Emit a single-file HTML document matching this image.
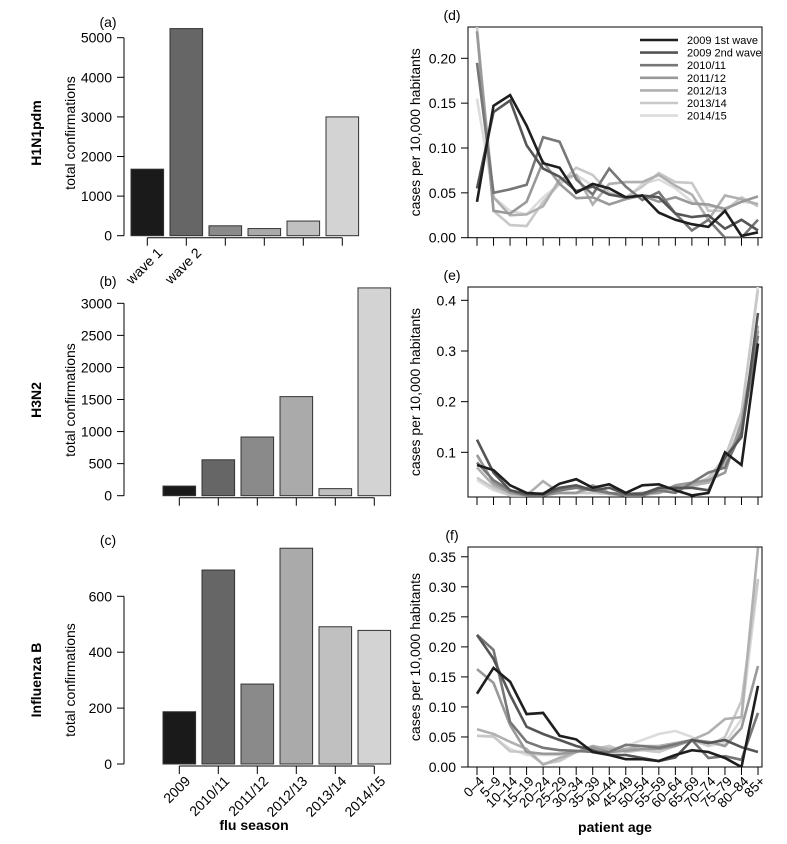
<!DOCTYPE html>
<html><head><meta charset="utf-8"><style>
body{margin:0;background:#fff;}
svg{display:block;font-family:"Liberation Sans",Arial,sans-serif;}
</style></head><body>
<svg id="c" width="787" height="844" viewBox="0 0 787 844"></svg>
<script>
const barSeasons=["2009","2010/11","2011/12","2012/13","2013/14","2014/15"];
const barColors=["#1a1a1a","#666","#8a8a8a","#aaa","#c0c0c0","#d3d3d3"];
const h1Labels=["wave 1","wave 2","","","",""];
const h1Values=[1680,5230,250,180,370,3000];
const h3Values=[150,560,915,1545,110,3240];
const fluBValues=[187,694,286,772,491,478];
const h1Ticks=[0,1000,2000,3000,4000,5000];
const h3Ticks=[0,500,1000,1500,2000,2500,3000];
const bTicks=[0,200,400,600];
const ages=["0–4","5–9","10–14","15–19","20–24","25–29","30–34","35–39","40–44","45–49","50–54","55–59","60–64","65–69","70–74","75–79","80–84","85+"];
const seriesNames=["2009 1st wave","2009 2nd wave","2010/11","2011/12","2012/13","2013/14","2014/15"];
const lineColors=["#1e1e1e","#555","#777","#999","#b0b0b0","#c8c8c8","#dcdcdc"];
const dS1=[0.04,0.147,0.159,0.125,0.083,0.078,0.05,0.06,0.055,0.045,0.047,0.028,0.02,0.015,0.012,0.03,0.002,0.006];
const dS2=[0.055,0.14,0.153,0.103,0.077,0.068,0.052,0.057,0.048,0.045,0.047,0.045,0.027,0.023,0.025,0.01,0.02,0.008];
const dS3=[0.195,0.05,0.054,0.059,0.112,0.107,0.065,0.048,0.077,0.057,0.042,0.051,0.027,0.008,0.02,0.0,0.0,0.02];
const dS4=[0.23,0.03,0.027,0.04,0.085,0.06,0.044,0.045,0.037,0.043,0.047,0.04,0.045,0.038,0.037,0.032,0.04,0.046];
const dS5=[0.23,0.045,0.025,0.026,0.035,0.065,0.07,0.037,0.06,0.062,0.062,0.07,0.058,0.048,0.02,0.047,0.043,0.037];
const dS6=[0.235,0.03,0.014,0.013,0.04,0.06,0.078,0.07,0.05,0.045,0.057,0.072,0.062,0.061,0.03,0.03,0.045,0.035];
const dS7=[0.155,0.045,0.03,0.026,0.045,0.06,0.07,0.058,0.05,0.043,0.06,0.065,0.055,0.04,0.035,0.033,0.04,0.038];
const eS1=[0.075,0.065,0.035,0.02,0.018,0.038,0.047,0.03,0.037,0.02,0.035,0.037,0.025,0.015,0.02,0.1,0.075,0.315];
const eS2=[0.125,0.06,0.025,0.018,0.018,0.03,0.035,0.025,0.03,0.018,0.018,0.03,0.03,0.03,0.025,0.09,0.13,0.375];
const eS3=[0.08,0.045,0.025,0.015,0.015,0.025,0.03,0.025,0.02,0.015,0.015,0.025,0.02,0.04,0.06,0.07,0.14,0.33];
const eS4=[0.095,0.04,0.02,0.015,0.015,0.02,0.02,0.035,0.02,0.018,0.02,0.02,0.035,0.04,0.045,0.06,0.16,0.34];
const eS5=[0.07,0.035,0.02,0.015,0.043,0.02,0.02,0.03,0.018,0.015,0.02,0.025,0.03,0.035,0.04,0.08,0.15,0.35];
const eS6=[0.05,0.03,0.015,0.015,0.02,0.02,0.02,0.02,0.018,0.015,0.015,0.02,0.03,0.035,0.05,0.09,0.18,0.42];
const eS7=[0.045,0.025,0.015,0.015,0.02,0.02,0.02,0.02,0.018,0.015,0.015,0.02,0.025,0.03,0.045,0.08,0.17,0.43];
const fS1=[0.122,0.165,0.142,0.088,0.09,0.052,0.046,0.025,0.02,0.013,0.013,0.01,0.02,0.028,0.025,0.015,0.0,0.135];
const fS2=[0.22,0.18,0.12,0.067,0.055,0.045,0.035,0.028,0.02,0.02,0.015,0.01,0.016,0.045,0.04,0.045,0.033,0.025];
const fS3=[0.22,0.195,0.075,0.042,0.032,0.028,0.027,0.025,0.025,0.037,0.035,0.032,0.038,0.045,0.015,0.018,0.012,0.09];
const fS4=[0.163,0.14,0.07,0.025,0.022,0.022,0.025,0.033,0.025,0.027,0.03,0.03,0.035,0.045,0.042,0.035,0.065,0.168];
const fS5=[0.063,0.055,0.042,0.03,0.004,0.015,0.025,0.035,0.03,0.03,0.035,0.035,0.04,0.045,0.057,0.08,0.083,0.365];
const fS6=[0.052,0.051,0.026,0.025,0.005,0.01,0.025,0.03,0.035,0.025,0.028,0.025,0.035,0.045,0.035,0.05,0.11,0.313];
const fS7=[0.052,0.05,0.03,0.02,0.02,0.02,0.025,0.028,0.03,0.035,0.045,0.055,0.06,0.05,0.035,0.04,0.08,0.31];
const dTicks=[0,0.05,0.10,0.15,0.20];
const eTicks=[0.1,0.2,0.3,0.4];
const fTicks=[0,0.05,0.10,0.15,0.20,0.25,0.30,0.35];

const svg=document.getElementById('c');
const NS="http://www.w3.org/2000/svg";
function mk(tag,at,txt){const e=document.createElementNS(NS,tag);for(const k in at)e.setAttribute(k,at[k]);if(txt!==undefined)e.textContent=txt;svg.appendChild(e);return e;}

function barPanel(key,vals,ticks,y0,pxPer,firstX,labels,labShift,letter,letterY,typeName,typeY){
  const yS=v=>y0-v*pxPer;
  let e=mk('line',{x1:124,x2:124,y1:yS(ticks[0]),y2:yS(ticks[ticks.length-1]),stroke:'#000'});
  
  ticks.forEach(t=>{mk('line',{x1:117,x2:124,y1:yS(t),y2:yS(t),stroke:'#000'});
    e=mk('text',{x:112,y:yS(t)+5,'text-anchor':'end','font-size':14,fill:'#000'},String(t));
    });
  const cx=i=>firstX+16.3+i*39;
  e=mk('line',{x1:cx(0),x2:cx(5),y1:y0+2,y2:y0+2,stroke:'#000'});
  
  vals.forEach((v,i)=>{
    e=mk('rect',{x:cx(i)-16.3,y:yS(v),width:32.6,height:v*pxPer,fill:barColors[i],stroke:'#333','stroke-width':1});
    
    mk('line',{x1:cx(i),x2:cx(i),y1:y0+2,y2:y0+10,stroke:'#000'});
    if(labels&&labels[i]){const lx=cx(i)+labShift, ly=y0+18;
      e=mk('text',{x:lx,y:ly,'text-anchor':'end','font-size':14,transform:`rotate(-45 ${lx} ${ly})`},labels[i]);
      }
  });
  e=mk('text',{x:108,y:letterY,'text-anchor':'middle','font-size':14},letter);
  
  e=mk('text',{x:75,y:typeY,'text-anchor':'middle','font-size':14,transform:`rotate(-90 75 ${typeY})`},'total confirmations');
  
  e=mk('text',{x:41,y:typeY,'text-anchor':'middle','font-size':14,'font-weight':'bold',transform:`rotate(-90 41 ${typeY})`},typeName);
  
}
barPanel('h1n1',h1Values,h1Ticks,235.7,0.0396,131,h1Labels,16,'(a)',27,'H1N1pdm',133);
barPanel('h3n2',h3Values,h3Ticks,495.7,0.06413,163,null,0,'(b)',286,'H3N2',400);
barPanel('flub',fluBValues,bTicks,764,0.2795,163,barSeasons,12,'(c)',545,'Influenza B',680);
let t=mk('text',{x:254,y:830,'text-anchor':'middle','font-size':14,'font-weight':'bold'},'flu season');


function linePanel(key,series,ticks,top,bottom,y0,pxPer,letter,fmt,showLabels){
  const xS=i=>477+i*16.53;const yS=v=>y0-v*pxPer;
  let e=mk('rect',{x:468,y:top,width:294,height:bottom-top,fill:'none',stroke:'#000'});
  
  const cp=mk('clipPath',{id:'cp'+key});const r=document.createElementNS(NS,'rect');
  r.setAttribute('x',468);r.setAttribute('y',top);r.setAttribute('width',294);r.setAttribute('height',bottom-top);cp.appendChild(r);
  ticks.forEach(tk=>{mk('line',{x1:461,x2:468,y1:yS(tk),y2:yS(tk),stroke:'#000'});
    e=mk('text',{x:456,y:yS(tk)+5,'text-anchor':'end','font-size':14},tk.toFixed(fmt));
    });
  ages.forEach((a,i)=>{mk('line',{x1:xS(i),x2:xS(i),y1:bottom,y2:bottom+8,stroke:'#000'});
    if(showLabels){const lx=xS(i)+8, ly=bottom+15;
      e=mk('text',{x:lx,y:ly,'text-anchor':'end','font-size':13.5,transform:`rotate(-45 ${lx} ${ly})`},a);
      }});
  for(let s=series.length-1;s>=0;s--){
    const pts=series[s].map((v,i)=>xS(i).toFixed(1)+','+yS(v).toFixed(1)).join(' ');
    e=mk('polyline',{points:pts,fill:'none',stroke:lineColors[s],'stroke-width':2.6,'clip-path':`url(#cp${key})`});
    
  }
  e=mk('text',{x:452,y:top-7,'text-anchor':'middle','font-size':14},letter);
  
  const cy=(top+bottom)/2;
  e=mk('text',{x:420,y:cy,'text-anchor':'middle','font-size':14,transform:`rotate(-90 420 ${cy})`},'cases per 10,000 habitants');
  
}
linePanel('d',[dS1,dS2,dS3,dS4,dS5,dS6,dS7],dTicks,27,237.7,237.7,897,'(d)',2,false);
linePanel('e',[eS1,eS2,eS3,eS4,eS5,eS6,eS7],eTicks,287,497,503,506.7,'(e)',1,false);
linePanel('f',[fS1,fS2,fS3,fS4,fS5,fS6,fS7],fTicks,547,767,767,600.6,'(f)',2,true);
t=mk('text',{x:615,y:832,'text-anchor':'middle','font-size':14,'font-weight':'bold'},'patient age');

seriesNames.forEach((n,i)=>{const y=40+i*12.6;
  mk('line',{x1:640,x2:678,y1:y,y2:y,stroke:lineColors[i],'stroke-width':2.6});
  const e=mk('text',{x:687,y:y+4,'font-size':11},n);
  });
</script>
</body></html>
